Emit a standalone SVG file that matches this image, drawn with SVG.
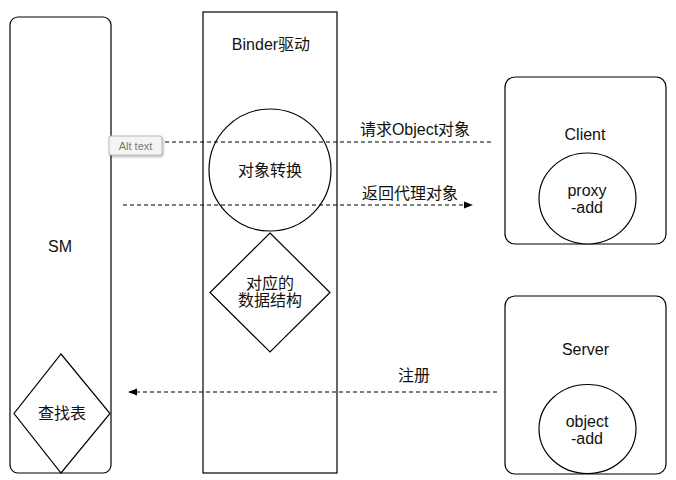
<svg xmlns="http://www.w3.org/2000/svg" width="676" height="480" viewBox="0 0 676 480">
<defs>
<style>
.box{fill:#fff;stroke:#000;stroke-width:1.2}
.t{font-family:"Liberation Sans","Noto Sans CJK SC",sans-serif;font-size:16px;fill:#111;text-anchor:middle}
.c{fill:none;stroke:#000;stroke-width:1.1;stroke-dasharray:4 3}
</style>
<marker id="ah" viewBox="0 0 10 10" refX="9" refY="5" markerWidth="9" markerHeight="9" markerUnits="userSpaceOnUse" orient="auto-start-reverse">
<path d="M0,1 L10,5 L0,9 Z" fill="#000"/>
</marker>
<filter id="sh" x="-20%" y="-20%" width="150%" height="160%"><feDropShadow dx="1" dy="1.5" stdDeviation="1" flood-color="#000" flood-opacity="0.3"/></filter>
</defs>
<rect width="676" height="480" fill="#fff"/>
<g id="sm">
<rect class="box" x="10" y="17" width="101" height="456" rx="8"/>
<text class="t" x="60" y="252">SM</text>
</g>
<g id="binder">
<rect class="box" x="203" y="12" width="134" height="461"/>
<text class="t" x="271" y="50">Binder驱动</text>
</g>
<g id="convert">
<circle class="box" cx="270" cy="170" r="61"/>
<text class="t" x="270" y="176">对象转换</text>
</g>
<g id="struct">
<path class="box" d="M270,233 L330,292.5 L270,352 L210,292.5 Z"/>
<text class="t" x="270" y="289">对应的</text>
<text class="t" x="270" y="306">数据结构</text>
</g>
<g id="lookup">
<path class="box" d="M61,354 L110,413.5 L61,473 L14,413.5 Z"/>
<text class="t" x="62" y="419">查找表</text>
</g>
<g id="client">
<rect class="box" x="505" y="77" width="161" height="167" rx="10"/>
<text class="t" x="585" y="140">Client</text>
</g>
<g id="proxy">
<ellipse class="box" cx="587.5" cy="198.5" rx="48.5" ry="45.5"/>
<text class="t" x="587" y="196">proxy</text>
<text class="t" x="587" y="213">-add</text>
</g>
<g id="server">
<rect class="box" x="505" y="296" width="161" height="178" rx="10"/>
<text class="t" x="585.5" y="355">Server</text>
</g>
<g id="object">
<ellipse class="box" cx="587.5" cy="429" rx="48.5" ry="44.5"/>
<text class="t" x="587" y="427">object</text>
<text class="t" x="587" y="444">-add</text>
</g>
<g id="connectors">
<line class="c" x1="123" y1="142" x2="493" y2="142"/>
<line class="c" x1="123" y1="205" x2="472" y2="205" marker-end="url(#ah)"/>
<line class="c" x1="497" y1="392" x2="129" y2="392" marker-end="url(#ah)"/>
<text class="t" x="415" y="135">请求Object对象</text>
<text class="t" x="410" y="199">返回代理对象</text>
<text class="t" x="414" y="381">注册</text>
</g>
<g id="alttext">
<rect x="109" y="136" width="53" height="19" rx="2" fill="#f4f4f4" stroke="#b8b8b8" stroke-width="1" filter="url(#sh)"/>
<text x="135.5" y="150" font-family="'Liberation Sans',sans-serif" font-size="11" fill="#777" text-anchor="middle">Alt text</text>
</g>
</svg>
